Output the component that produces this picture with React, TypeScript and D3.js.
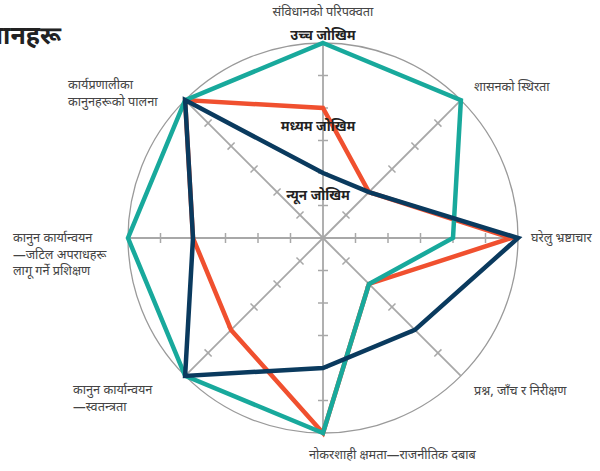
import { useEffect, useRef } from "react";
import * as d3 from "d3";

const axes = [
  ["संविधानको परिपक्वता"],
  ["शासनको स्थिरता"],
  ["घरेलु भ्रष्टाचार"],
  ["प्रश्न, जाँच र निरीक्षण"],
  ["नोकरशाही क्षमता—राजनीतिक दबाब"],
  ["कानुन कार्यान्वयन", "—स्वतन्त्रता"],
  ["कानुन कार्यान्वयन", "—जटिल अपराधहरू", "लागू गर्ने प्रशिक्षण"],
  ["कार्यप्रणालीका", "कानुनहरूको पालना"],
];

const tealValues = [6, 6, 4, 2, 6, 6, 6, 6];
const orangeValues = [4, 2, 5.8, 2, 6, 4, 4, 6];
const navyValues = [2, 2, 6, 4, 4, 6, 4, 6];

const riskLabels = [
  { text: "उच्च जोखिम", level: 6.25 },
  { text: "मध्यम जोखिम", level: 3.45 },
  { text: "न्यून जोखिम", level: 1.3 },
];

const titleText = "संस्थानहरू";
const maxValue = 6;
const tickValues = [1, 2, 3, 4, 5];

const font = "'Noto Sans Devanagari', 'Noto Sans', sans-serif";

export default function App() {
  const ref = useRef<SVGSVGElement>(null);

  useEffect(() => {
    const svg = d3.select(ref.current);
    svg.selectAll("*").remove();

    const cx = 323;
    const cy = 238;
    const radius = 195;

    const r = d3.scaleLinear().domain([0, maxValue]).range([0, radius]);
    const angle = d3
      .scaleLinear()
      .domain([0, axes.length])
      .range([0, 2 * Math.PI]);

    const g = svg.append("g").attr("transform", `translate(${cx},${cy})`);

    // outer circle
    g.append("circle")
      .attr("r", r(maxValue))
      .attr("fill", "none")
      .attr("stroke", "#9a9a9a")
      .attr("stroke-width", 1.3);

    // axis lines + cross ticks
    axes.forEach((_, i) => {
      const a = angle(i);
      g.append("line")
        .attr("x1", 0)
        .attr("y1", 0)
        .attr("x2", Math.sin(a) * r(maxValue))
        .attr("y2", -Math.cos(a) * r(maxValue))
        .attr("stroke", "#a8a8a8")
        .attr("stroke-width", 1.8);

      tickValues.forEach((t) => {
        const px = Math.sin(a) * r(t);
        const py = -Math.cos(a) * r(t);
        const nx = Math.cos(a) * 5;
        const ny = Math.sin(a) * 5;
        g.append("line")
          .attr("x1", px - nx)
          .attr("y1", py - ny)
          .attr("x2", px + nx)
          .attr("y2", py + ny)
          .attr("stroke", "#a8a8a8")
          .attr("stroke-width", 1.5);
      });
    });

    const radar = d3
      .lineRadial<number>()
      .angle((_, i) => angle(i))
      .radius((d) => r(d))
      .curve(d3.curveLinearClosed);

    const series = [
      { values: orangeValues, color: "#f0502f" },
      { values: tealValues, color: "#18a99c" },
      { values: navyValues, color: "#0a3a5e" },
    ];

    series.forEach((s) => {
      g.append("path")
        .datum(s.values)
        .attr("d", radar)
        .attr("fill", "none")
        .attr("stroke", s.color)
        .attr("stroke-width", 4.5)
        .attr("stroke-linejoin", "miter");
    });

    // risk level labels
    riskLabels.forEach((l, i) => {
      g.append("text")
        .attr("x", i === 0 ? 0 : -5)
        .attr("y", -r(l.level))
        .attr("dy", "0.35em")
        .attr("text-anchor", "middle")
        .attr("font-family", font)
        .attr("font-size", 13.5)
        .attr("font-weight", 700)
        .attr("fill", "#222")
        .text(l.text);
    });

    // axis labels
    const labelPos: [number, number, string][] = [
      [323, 12, "middle"],
      [474, 87, "start"],
      [531, 238, "start"],
      [474, 391, "start"],
      [309, 455, "start"],
      [73, 390, "start"],
      [13, 238, "start"],
      [68, 85, "start"],
    ];

    axes.forEach((lines, i) => {
      const [x, y, anchor] = labelPos[i];
      const t = svg
        .append("text")
        .attr("x", x)
        .attr("y", y)
        .attr("text-anchor", anchor)
        .attr("font-family", font)
        .attr("font-size", 12.7)
        .attr("fill", "#444");
      lines.forEach((line, j) => {
        t.append("tspan")
          .attr("x", x)
          .attr("y", y + j * 16.5)
          .attr("dy", "0.35em")
          .text(line);
      });
    });

    // cut-off title
    svg
      .append("text")
      .attr("x", 61)
      .attr("y", 35)
      .attr("dy", "0.35em")
      .attr("text-anchor", "end")
      .attr("font-family", font)
      .attr("font-size", 25)
      .attr("font-weight", 700)
      .attr("fill", "#222")
      .text(titleText);
  }, []);

  return (
    <svg
      ref={ref}
      width={600}
      height={471}
      style={{ position: "absolute", left: 0, top: 0, background: "#fff" }}
    />
  );
}
